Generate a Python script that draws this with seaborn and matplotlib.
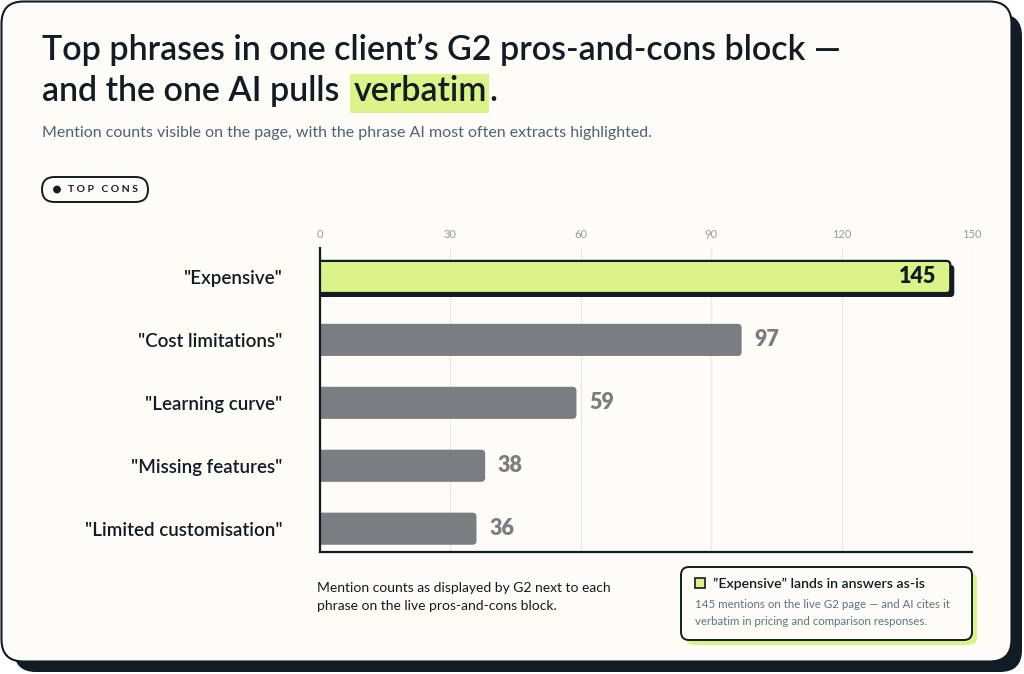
import matplotlib
matplotlib.use("Agg")
import matplotlib.pyplot as plt
import seaborn as sns
import pandas as pd
from matplotlib.patches import FancyBboxPatch, Rectangle

phrases = ['"Expensive"', '"Cost limitations"', '"Learning curve"',
           '"Missing features"', '"Limited customisation"']
mentions = [145, 97, 59, 38, 36]
ticks = [0, 30, 60, 90, 120, 150]

INK = "#111c24"
LIME = "#dcf38a"
GREY = "#7a7e80"
CARD = "#fdfcf7"
SLATE = "#4d6278"

sns.set_theme(style="white")
plt.rcParams["font.family"] = ["Lato", "DejaVu Sans"]

W, H = 1024, 674
fig = plt.figure(figsize=(W / 100, H / 100), dpi=100)
fig.patch.set_facecolor("white")


def fx(px):
    return px / W


def fy(py):
    return 1 - py / H


# card with hard shadow
bg = fig.add_axes([0, 0, 1, 1])
bg.set_xlim(0, W)
bg.set_ylim(H, 0)
bg.axis("off")
bg.add_patch(FancyBboxPatch((14, 14), 1008, 658, boxstyle="round,pad=0,rounding_size=22",
                            fc=INK, ec="none"))
bg.add_patch(FancyBboxPatch((1.5, 1.5), 1010, 660, boxstyle="round,pad=0,rounding_size=22",
                            fc=CARD, ec=INK, lw=1.5))

# title with highlighted word
TS = 24.5
r = fig.canvas.get_renderer()
fig.text(fx(42), fy(60), "Top phrases in one client\u2019s G2 pros-and-cons block \u2014",
         fontsize=TS, weight="semibold", color=INK, va="baseline")
t1 = fig.text(fx(42), fy(101), "and the one AI pulls", fontsize=TS, weight="semibold",
              color=INK, va="baseline")
bb = t1.get_window_extent(renderer=r)
x_hl = bb.x1 + 14
t2 = fig.text(x_hl / W, fy(101), "verbatim", fontsize=TS, weight="semibold",
              color=INK, va="baseline", zorder=5)
bb2 = t2.get_window_extent(renderer=r)
bg.add_patch(Rectangle((bb2.x0 - 3, 74), bb2.width + 5, 39, fc=LIME, ec="none", zorder=1))
fig.text(bb2.x1 / W + fx(3), fy(101), ".", fontsize=TS, weight="semibold", color=INK,
         va="baseline")

fig.text(fx(42), fy(137), "Mention counts visible on the page, with the phrase AI most often extracts highlighted.",
         fontsize=11.5, color=SLATE, va="baseline")

# pill tag
bg.add_patch(FancyBboxPatch((42, 177), 106, 25, boxstyle="round,pad=0,rounding_size=12.5",
                            fc=CARD, ec=INK, lw=1.4))
bg.add_patch(plt.Circle((57, 189.5), 3.2, color=INK))
fig.text(fx(68), fy(189.5), "T O P   C O N S", fontsize=7.5, weight="bold", color=INK,
         va="center")

# bar chart
df = pd.DataFrame({"phrase": phrases, "mentions": mentions})
ax = fig.add_axes([fx(320), fy(552), fx(652), (552 - 248) / H])
ax.set_facecolor("none")
sns.barplot(data=df, x="mentions", y="phrase", hue="phrase", orient="h",
            palette=[LIME] + [GREY] * 4, width=0.51, legend=False, ax=ax)
ax.set_xlim(0, 150)
ax.set_ylim(4.37, -0.46)

xu = 150 / 652          # data units per px, x
yu = 4.83 / (552 - 248)  # data units per px, y
for i, p in enumerate(list(ax.patches)):
    x0, y0, w, h = p.get_x(), p.get_y(), p.get_width(), p.get_height()
    p.set_visible(False)
    fc = LIME if i == 0 else GREY
    if i == 0:
        ax.add_patch(FancyBboxPatch((x0 - 3, y0 + 4 * yu), w + 3 + 4 * xu, h,
                                    boxstyle=f"round,pad=0,rounding_size={4 * xu}",
                                    mutation_aspect=yu / xu, fc=INK, ec="none", zorder=2))
        ax.add_patch(FancyBboxPatch((x0 - 3, y0), w + 3, h,
                                    boxstyle=f"round,pad=0,rounding_size={4 * xu}",
                                    mutation_aspect=yu / xu, fc=fc, ec=INK, lw=1.6, zorder=3))
    else:
        ax.add_patch(FancyBboxPatch((x0 - 3, y0), w + 3, h,
                                    boxstyle=f"round,pad=0,rounding_size={4 * xu}",
                                    mutation_aspect=yu / xu, fc=fc, ec="none", zorder=3))

for i, v in enumerate(mentions):
    if i == 0:
        ax.annotate(str(v), (v, i), xytext=(-10, 0), textcoords="offset points",
                    ha="right", va="center", fontsize=15.5, weight="heavy", color=INK, zorder=4)
    else:
        ax.annotate(str(v), (v, i), xytext=(9, 0), textcoords="offset points",
                    ha="left", va="center", fontsize=15.5, weight="heavy", color=GREY, zorder=4)

ax.set_xticks(ticks)
ax.xaxis.tick_top()
ax.tick_params(axis="x", length=0, pad=6, labelsize=8, labelcolor="#9a9a9a")
ax.tick_params(axis="y", length=0, pad=27, labelsize=13.5, labelcolor=INK)
for lab in ax.get_yticklabels():
    lab.set_fontweight("semibold")
ax.grid(axis="x", color="#ebebe6", lw=1)
ax.set_axisbelow(True)
ax.set_xlabel("")
ax.set_ylabel("")
for s in ["top", "right"]:
    ax.spines[s].set_visible(False)
for s in ["left", "bottom"]:
    ax.spines[s].set_color(INK)
    ax.spines[s].set_linewidth(1.6)
    ax.spines[s].set_zorder(5)

# footnote
fig.text(fx(317), fy(592), "Mention counts as displayed by G2 next to each", fontsize=10,
         color=INK, va="baseline")
fig.text(fx(317), fy(610), "phrase on the live pros-and-cons block.", fontsize=10,
         color=INK, va="baseline")

# callout
bg.add_patch(FancyBboxPatch((686, 572), 291, 73, boxstyle="round,pad=0,rounding_size=8",
                            fc=LIME, ec="none"))
bg.add_patch(FancyBboxPatch((681, 567), 291, 73, boxstyle="round,pad=0,rounding_size=8",
                            fc=CARD, ec=INK, lw=1.4))
bg.add_patch(Rectangle((695, 578), 10, 10, fc=LIME, ec=INK, lw=1.2))
fig.text(fx(713), fy(588), "\u201dExpensive\u201d lands in answers as-is", fontsize=10.2,
         weight="semibold", color=INK, va="baseline")
fig.text(fx(695), fy(608), "145 mentions on the live G2 page \u2014 and AI cites it",
         fontsize=8.3, color="#5f7284", va="baseline")
fig.text(fx(695), fy(625), "verbatim in pricing and comparison responses.",
         fontsize=8.3, color="#5f7284", va="baseline")

fig.savefig("out.png", dpi=100, facecolor=fig.get_facecolor())
